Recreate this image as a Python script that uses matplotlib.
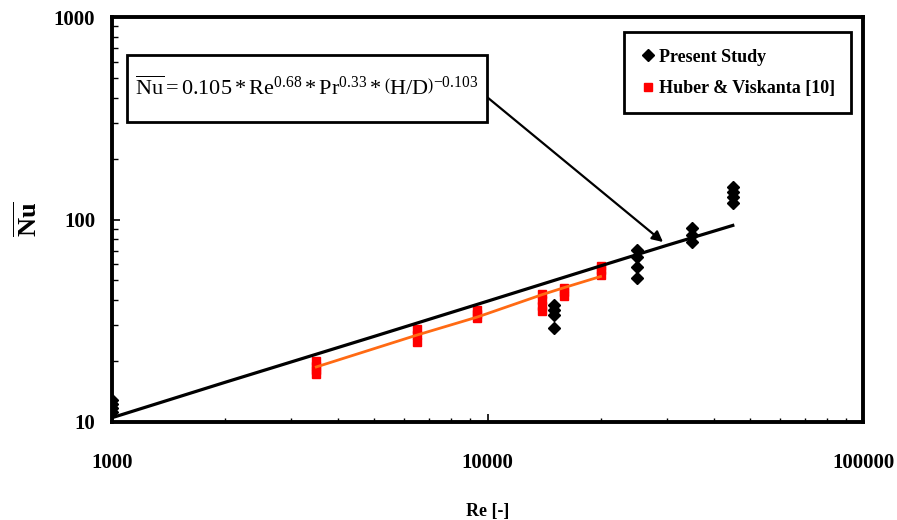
import matplotlib.pyplot as plt
from matplotlib.patches import Rectangle

plt.rcParams['font.family'] = ['Liberation Serif', 'DejaVu Serif']
plt.rcParams['mathtext.fontset'] = 'custom'
plt.rcParams['mathtext.rm'] = 'Liberation Serif'
plt.rcParams['mathtext.it'] = 'Liberation Serif:italic'
plt.rcParams['mathtext.bf'] = 'Liberation Serif:bold'

# Present study (Re, Nu)
present_re = [1000, 1000, 1000, 1000,
              15000, 15000, 15000, 15000,
              25000, 25000, 25000, 25000,
              35000, 35000, 35000,
              45000, 45000, 45000, 45000]
present_nu = [12.8, 12.3, 11.7, 11.2,
              37.9, 35.8, 33.9, 29.2,
              71.0, 65.6, 58.5, 51.6,
              91.3, 84.3, 77.8,
              144, 136, 128.5, 121]

# Huber & Viskanta [10]
huber_re = [3500, 3500, 3500, 3500,
            6500, 6500, 6500,
            9400, 9400, 9400,
            14000, 14000, 14000, 14000,
            16000, 16000, 16000,
            20000, 20000, 20000]
huber_nu = [20.0, 18.9, 18.1, 17.3,
            28.9, 27.0, 24.9,
            35.8, 34.2, 32.7,
            43.0, 40.2, 37.5, 35.4,
            46.0, 44.0, 42.0,
            59.2, 56.5, 53.4]

# correlation line (black) and Huber fit line (orange)
corr_re = [1000, 2000, 5000, 10000, 20000, 30000, 45000]
corr_nu = [10.5, 15.7, 26.5, 39.5, 59.0, 74.5, 93.5]
fit_re = [3500, 6500, 9400, 14000, 16000, 20000]
fit_nu = [18.7, 26.9, 33.0, 42.6, 46.1, 52.3]

fig = plt.figure(figsize=(8.97, 5.2), dpi=100)
ax = fig.add_axes([0.1249, 0.1885, 0.8372, 0.7787])

ax.plot(corr_re, corr_nu, color='black', lw=2.3, zorder=2)
ax.plot(fit_re, fit_nu, color='#ff6a13', lw=2.0, zorder=2)
ax.plot(present_re, present_nu, 'D', color='black', ms=6, ls='none',
        label='Present Study', zorder=3)
ax.plot(huber_re, huber_nu, 's', color='#ff0000', ms=6, ls='none',
        label='Huber & Viskanta [10]', zorder=1)

ax.set_xscale('log')
ax.set_yscale('log')
ax.set_xlim(1000, 100000)
ax.set_ylim(10, 1000)
ax.set_xticks([1000, 10000, 100000])
ax.set_xticklabels(['1000', '10000', '100000'])
ax.set_yticks([10, 100, 1000])
ax.set_yticklabels(['10', '100', '1000'])

for s in ax.spines.values():
    s.set_linewidth(2.8)
ax.tick_params(which='major', direction='in', length=6, width=1.2,
               labelsize=15)
ax.tick_params(axis='y', which='major', pad=12)
ax.tick_params(axis='x', which='major', pad=22)
ax.tick_params(which='minor', direction='in', length=4, width=1.0)
ax.tick_params(axis='x', which='minor', length=3)
for lab in ax.get_xticklabels() + ax.get_yticklabels():
    lab.set_fontweight('bold')

ax.set_xlabel('Re [-]', fontsize=13, fontweight='bold', labelpad=22)
ax.set_ylabel(r'$\overline{\mathbf{Nu}}$', fontsize=19)
ax.yaxis.set_label_coords(-0.093, 0.5)

# equation box with arrow pointing at the correlation line
ax.add_patch(Rectangle((0.020, 0.7407), 0.4793, 0.1653, transform=ax.transAxes,
                       fc='white', ec='black', lw=2, zorder=4))
eq = (r'$\overline{\mathrm{Nu}} = 0.105*\mathrm{Re}^{0.68}*\mathrm{Pr}^{0.33}*'
      r'\left(\mathrm{H}/\mathrm{D}\right)^{-0.103}$')
ax.text(0.2597, 0.8247, eq, transform=ax.transAxes, ha='center', va='center',
        fontsize=16, zorder=5)
ax.annotate('', xy=(0.7337, 0.4444), xycoords='axes fraction',
            xytext=(0.4993, 0.8025), textcoords='axes fraction',
            arrowprops=dict(arrowstyle='-|>', color='black', lw=1.6,
                            shrinkA=0, shrinkB=0, mutation_scale=16))

leg = ax.legend(loc='upper right', bbox_to_anchor=(0.984, 0.962),
                borderaxespad=0, fancybox=False, framealpha=1,
                edgecolor='black', prop={'weight': 'bold', 'size': 13},
                handletextpad=0.2, handlelength=0.8, borderpad=0.9,
                labelspacing=0.8)
leg.get_frame().set_linewidth(2)

fig.savefig('out.png', dpi=100)
